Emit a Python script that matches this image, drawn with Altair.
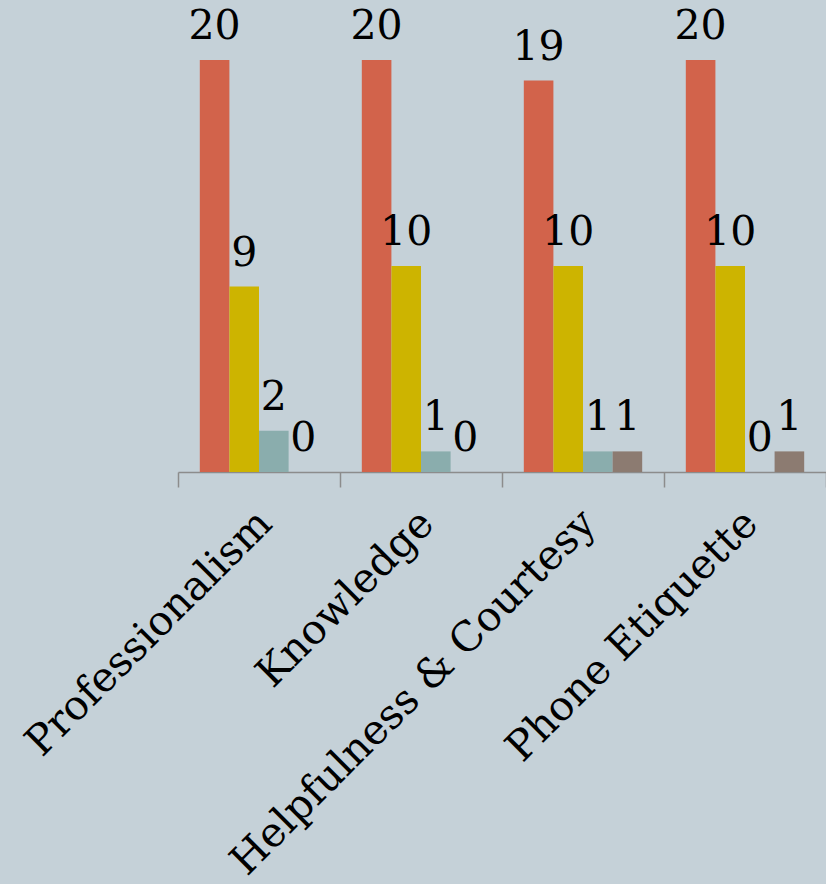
import altair as alt
import pandas as pd

categories = ["Professionalism", "Knowledge", "Helpfulness & Courtesy", "Phone Etiquette"]
series = ["Series 1", "Series 2", "Series 3", "Series 4"]
series1 = [20, 20, 19, 20]
series2 = [9, 10, 10, 10]
series3 = [2, 1, 1, 0]
series4 = [0, 0, 1, 1]
colors = ["#d2634b", "#cdb400", "#8aadad", "#8c7b71"]

rows = []
for s, vals in zip(series, [series1, series2, series3, series4]):
    for c, v in zip(categories, vals):
        rows.append({"category": c, "series": s, "value": v})
df = pd.DataFrame(rows)

FONT = "DejaVu Serif"
AXIS_GRAY = "#8c8c8c"

base = alt.Chart(df).encode(
    x=alt.X(
        "category:N",
        sort=categories,
        scale=alt.Scale(paddingInner=0, paddingOuter=0),
        axis=alt.Axis(
            title=None,
            labelAngle=315,
            labelAlign="right",
            labelBaseline="middle",
            labelFont=FONT,
            labelFontSize=41,
            labelColor="black",
            labelPadding=30,
            labelOffset=6,
            labelLimit=1000,
            tickSize=15,
            tickBand="extent",
            tickColor=AXIS_GRAY,
            tickWidth=1.5,
            domainColor=AXIS_GRAY,
            domainWidth=1.5,
            grid=False,
        ),
    ),
    xOffset=alt.XOffset("series:N", sort=series, scale=alt.Scale(paddingInner=0, paddingOuter=0.737)),
    y=alt.Y("value:Q", scale=alt.Scale(domain=[0, 22.91], nice=False), axis=None),
)

bars = base.mark_bar().encode(
    color=alt.Color("series:N", sort=series, scale=alt.Scale(domain=series, range=colors), legend=None)
)

labels = base.mark_text(
    dy=-21, baseline="alphabetic", align="center", font=FONT, fontSize=41, color="black"
).encode(text="value:Q")

chart = (
    alt.layer(bars, labels)
    .properties(
        width=648,
        height=472,
        background="#c5d1d8",
        padding={"left": 178, "top": 0, "right": 0, "bottom": 412},
        autosize=alt.AutoSizeParams(type="none"),
    )
    .configure_view(stroke=None)
)

chart.save("out.html", embed_options={"renderer": "svg", "actions": False})
